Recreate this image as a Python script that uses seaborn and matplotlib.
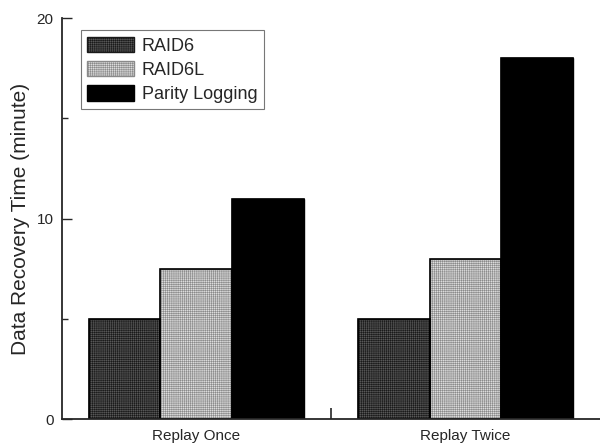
import seaborn as sns
import pandas as pd
import matplotlib.pyplot as plt
from matplotlib.ticker import MultipleLocator, FixedLocator

scenarios = ['Replay Once', 'Replay Twice']
schemes = ['RAID6', 'RAID6L', 'Parity Logging']
raid6 = [5, 5]
raid6l = [7.5, 8]
parity_logging = [11, 18]

rows = []
for i, s in enumerate(scenarios):
    rows.append([s, 'RAID6', raid6[i]])
    rows.append([s, 'RAID6L', raid6l[i]])
    rows.append([s, 'Parity Logging', parity_logging[i]])
df = pd.DataFrame(rows, columns=['scenario', 'scheme', 'time'])

sns.set_style('ticks')
plt.rcParams['font.family'] = ['Liberation Sans', 'DejaVu Sans']
plt.rcParams['hatch.linewidth'] = 0.4

fills = {'RAID6': '#585858', 'RAID6L': '#dcdcdc', 'Parity Logging': '#000000'}
hatches = {'RAID6': '++++++++', 'RAID6L': '++++++++', 'Parity Logging': ''}
hatch_edge = {'RAID6': '#1a1a1a', 'RAID6L': '#8a8a8a', 'Parity Logging': 'black'}

fig = plt.figure(figsize=(6, 4.43), dpi=100)
ax = fig.add_axes([0.103, 0.054, 0.897, 0.905])
sns.barplot(data=df, x='scenario', y='time', hue='scheme', hue_order=schemes,
            palette=fills, width=0.8, edgecolor='black', linewidth=1,
            saturation=1, ax=ax)

for container, scheme in zip(ax.containers, schemes):
    for bar in container:
        bar.set_hatch(hatches[scheme])
        bar.set_edgecolor(hatch_edge[scheme])

# redraw the bar outlines in black on top of the hatching
for container in ax.containers:
    for bar in container:
        ax.add_patch(plt.Rectangle(bar.get_xy(), bar.get_width(), bar.get_height(),
                                   fill=False, edgecolor='black', linewidth=1.2))

ax.set_xlim(-0.5, 1.5)
ax.set_ylim(0, 20)
ax.yaxis.set_major_locator(MultipleLocator(10))
ax.yaxis.set_minor_locator(MultipleLocator(5))
ax.tick_params(axis='y', which='major', direction='in', length=7, width=1, labelsize=11, pad=6)
ax.tick_params(axis='y', which='minor', direction='in', length=4, width=1)
ax.tick_params(axis='x', which='major', length=0, labelsize=11, pad=7)
ax.xaxis.set_minor_locator(FixedLocator([0.5]))
ax.tick_params(axis='x', which='minor', direction='in', length=8, width=1.2)
ax.set_xlabel('')
ax.set_ylabel('Data Recovery Time (minute)', fontsize=15, labelpad=5)
for side in ['top', 'right']:
    ax.spines[side].set_visible(False)
for side in ['left', 'bottom']:
    ax.spines[side].set_linewidth(1.3)

handles, labels = ax.get_legend_handles_labels()
for h, scheme in zip(handles, schemes):
    h.set_hatch(hatches[scheme])
    h.set_edgecolor(hatch_edge[scheme])
leg = ax.legend(handles, labels, loc='upper left', bbox_to_anchor=(0.036, 0.97),
                fontsize=13, frameon=True, fancybox=False, handlelength=2.6,
                handleheight=0.95, handletextpad=0.4, labelspacing=0.35,
                borderpad=0.35, borderaxespad=0)
leg.get_frame().set_edgecolor('#555555')
leg.get_frame().set_linewidth(0.8)

fig.savefig('out.png', dpi=100)
